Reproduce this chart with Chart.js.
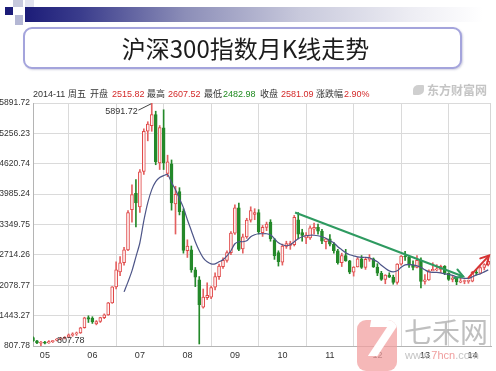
<!DOCTYPE html>
<html><head><meta charset="utf-8">
<script src="https://cdn.jsdelivr.net/npm/chart.js@4.4.1/dist/chart.umd.min.js"></script>
<style>
html,body{margin:0;padding:0;background:#fff;}
#wrap{position:relative;width:496px;height:371px;overflow:hidden;background:#fff;font-family:'Liberation Sans','Noto Sans CJK SC',sans-serif;}
#c{position:absolute;left:0;top:0;}
.sq{position:absolute;}
#bar{position:absolute;left:25px;top:7px;width:458px;height:15px;background:linear-gradient(to right,#1c1c78 0%,#3a3c8c 12%,#8c8eb8 35%,#c8c9dc 60%,#eeeef4 85%,#ffffff 100%);}
#titlebox{position:absolute;left:23px;top:27px;width:435px;height:38px;border:2px solid #a4a4dc;border-radius:9px;background:#fff;box-shadow:1px 1px 2px rgba(120,120,170,0.35);display:flex;align-items:center;justify-content:center;}
#titlebox span{font-family:'Noto Sans CJK SC',sans-serif;font-size:24px;color:#1c1c1c;line-height:1;position:relative;left:3px;}
.h{position:absolute;top:88px;font-size:9px;line-height:12px;color:#333;white-space:nowrap;font-family:'Noto Sans CJK SC','Liberation Sans',sans-serif;}
.n{font-family:'Liberation Sans',sans-serif;font-size:9px;}
.r{color:#d42a2a;}
.g{color:#1f8a1f;}
#wm1{position:absolute;left:427px;top:83px;font-family:'Noto Sans CJK SC',sans-serif;font-weight:bold;font-size:12px;color:#c4c4c4;line-height:14px;}
#wm1i{position:absolute;left:413px;top:85px;width:11px;height:10px;border-radius:50% 10% 50% 10%;background:#cfcfcf;}
#logo{position:absolute;left:357px;top:320px;width:40px;height:51px;border-radius:9px;background:rgba(242,160,160,0.75);overflow:hidden;}
#logo span{position:absolute;left:7px;top:-6px;font-family:'DejaVu Sans',sans-serif;font-weight:bold;font-style:italic;font-size:50px;color:#fff;line-height:1;}
#wm2{position:absolute;left:404px;top:315px;font-family:'Noto Sans CJK SC',sans-serif;font-size:28px;color:rgba(170,170,170,0.75);line-height:32px;letter-spacing:0px;}
#wm3{position:absolute;left:405px;top:349px;font-family:'Liberation Sans',sans-serif;font-size:11px;color:rgba(180,180,180,0.8);line-height:12px;}
#wm3 b{font-weight:normal;color:rgba(236,140,140,0.85);}
</style></head><body>
<div id="wrap">
<canvas id="c" width="496" height="371"></canvas>
<div class="sq" style="left:13px;top:0px;width:10px;height:7px;background:#c6c8dc;"></div>
<div class="sq" style="left:25px;top:0px;width:9px;height:7px;background:#e2e3ee;"></div>
<div class="sq" style="left:5px;top:7px;width:8px;height:8px;background:#1c1c78;"></div>
<div class="sq" style="left:15px;top:15px;width:8px;height:10px;background:#b4b7d4;"></div>
<div id="bar"></div>
<div id="titlebox"><span>沪深300指数月K线走势</span></div>
<div class="h n" style="left:33px;">2014-11</div>
<div class="h" style="left:68px;">周五</div>
<div class="h" style="left:90px;">开盘</div>
<div class="h n r" style="left:112px;">2515.82</div>
<div class="h" style="left:147px;">最高</div>
<div class="h n r" style="left:168px;">2607.52</div>
<div class="h" style="left:204px;">最低</div>
<div class="h n g" style="left:223px;">2482.98</div>
<div class="h" style="left:260px;">收盘</div>
<div class="h n r" style="left:281px;">2581.09</div>
<div class="h" style="left:316px;">涨跌幅</div>
<div class="h n r" style="left:344px;">2.90%</div>
<div id="wm1i"></div>
<div id="wm1">东方财富网</div>
<div id="logo"><span>7</span></div>
<div id="wm2">七禾网</div>
<div id="wm3">www.<b>7hcn</b>.com</div>
</div>
<script>
// ---- categories (monthly bars, 2005-04 .. 2014-11) ----
const months = [
 '2005-04','2005-05','2005-06','2005-07','2005-08','2005-09','2005-10','2005-11','2005-12',
 '2006-01','2006-02','2006-03','2006-04','2006-05','2006-06','2006-07','2006-08','2006-09','2006-10','2006-11','2006-12',
 '2007-01','2007-02','2007-03','2007-04','2007-05','2007-06','2007-07','2007-08','2007-09','2007-10','2007-11','2007-12',
 '2008-01','2008-02','2008-03','2008-04','2008-05','2008-06','2008-07','2008-08','2008-09','2008-10','2008-11','2008-12',
 '2009-01','2009-02','2009-03','2009-04','2009-05','2009-06','2009-07','2009-08','2009-09','2009-10','2009-11','2009-12',
 '2010-01','2010-02','2010-03','2010-04','2010-05','2010-06','2010-07','2010-08','2010-09','2010-10','2010-11','2010-12',
 '2011-01','2011-02','2011-03','2011-04','2011-05','2011-06','2011-07','2011-08','2011-09','2011-10','2011-11','2011-12',
 '2012-01','2012-02','2012-03','2012-04','2012-05','2012-06','2012-07','2012-08','2012-09','2012-10','2012-11','2012-12',
 '2013-01','2013-02','2013-03','2013-04','2013-05','2013-06','2013-07','2013-08','2013-09','2013-10','2013-11','2013-12',
 '2014-01','2014-02','2014-03','2014-04','2014-05','2014-06','2014-07','2014-08','2014-09','2014-10','2014-11'
];
// ---- tick labels ----
const yearLabels = ['05','06','07','08','09','10','11','12','13','14'];
const yearLabelMonths = ['2005-07','2006-07','2007-07','2008-07','2009-07','2010-07','2011-07','2012-07','2013-07','2014-07'];
const gridMonths = ['2006-01','2007-01','2008-01','2009-01','2010-01','2011-01','2012-01','2013-01','2014-01'];
const yTickLabels = ['807.78','1443.27','2078.77','2714.26','3349.75','3985.24','4620.74','5256.23','5891.72'];

// ---- series values ----
const open = [985,915,865,880,870,900,930,950,970,990, 1035,1060,1080,1190,1400,1390,1270,1320,1400,1460,
 1710,2045,2360,2550,2820,3660,4000,3720,4460,5300, 5420,5650,4640,5370,4420,4620,3780,4040,3630,2800,
 2820,2400,2190,1620,1820,1830,2040,2260,2470,2600, 2760,3170,3700,2840,3090,3440,3560,3600,3180,3290,
 3400,3030,2760,2560,2890,2910,2930,3450,3180,3070, 3070,3250,3290,3210,2990,3050,2940,2800,2550,2700,
 2590,2350,2460,2630,2450,2620,2630,2460,2330,2200, 2290,2250,2140,2520,2690,2670,2500,2450,2600,2160,
 2190,2380,2400,2410,2475,2330,2200,2230,2145,2158, 2160,2165,2350,2330,2450,2515.82];
const high = [1000,925,905,905,920,925,965,990,1005,1060, 1085,1100,1200,1410,1440,1420,1340,1410,1480,1720,
 2050,2570,2680,2870,3640,4180,4290,4500,5350,5500, 5891.72,5720,5420,5750,4800,4700,4150,4120,3680,3030,
 2900,2450,2260,2000,2130,2060,2340,2520,2650,2800, 3200,3760,3800,3150,3480,3720,3680,3660,3330,3400,
 3450,3060,2800,2940,3000,3000,3540,3600,3250,3180, 3320,3380,3360,3250,3060,3140,2970,2830,2750,2830,
 2600,2470,2660,2700,2650,2720,2650,2530,2370,2300, 2340,2290,2530,2700,2790,2700,2590,2700,2650,2300,
 2400,2550,2510,2500,2490,2340,2280,2240,2230,2190, 2190,2370,2410,2470,2530,2607.52];
const low = [905,855,807.78,850,860,880,915,935,955,980, 1010,1030,1070,1180,1300,1280,1250,1300,1380,1450,
 1700,2000,2280,2500,2800,3400,3300,3600,4400,5100, 5300,4600,4500,4500,4350,3650,3150,3550,2750,2660,
 2350,2050,850,1600,1780,1800,1980,2200,2430,2560, 2720,3140,2800,2750,3060,3400,3450,3150,3100,3220,
 3000,2620,2480,2500,2850,2830,2900,3050,3000,2950, 3040,3150,3150,2950,2840,2900,2750,2520,2470,2580,
 2320,2270,2460,2430,2410,2580,2450,2280,2180,2110, 2240,2100,2100,2500,2600,2450,2400,2440,2023,2100,
 2180,2380,2380,2340,2300,2180,2150,2090,2130,2110, 2120,2150,2290,2320,2400,2482.98];
const close = [915,870,880,868,900,912,955,975,990,1040, 1060,1080,1190,1395,1370,1310,1320,1400,1460,1710,
 2045,2400,2550,2820,3600,3975,3800,4450,5300,5450, 5650,4660,5380,4640,4660,3800,3980,3620,2810,2900,
 2400,2250,1670,1830,1870,2030,2260,2480,2600,2760, 3170,3700,2830,3090,3440,3640,3600,3200,3290,3360,
 3050,2700,2570,2900,2950,2960,3500,3150,3120,3130, 3280,3290,3210,3000,3050,2940,2800,2550,2700,2590,
 2350,2460,2630,2450,2620,2640,2460,2330,2200,2290, 2250,2140,2520,2690,2670,2500,2450,2600,2160,2190,
 2380,2410,2420,2475,2330,2200,2230,2150,2160,2165, 2168,2350,2330,2450,2510,2581.09];
const ma = [null,null,null,null,null,null,null,null,null,null,null,null,null,null,null,null,null,null,null,null,null,null,null,
 1940,2150,2380,2674,2968,3429,3806,4079,4247,4331,
 4373,4394,4226,4079,3890,3702,3450,3220,2989,2800,
 2653,2569,2527,2527,2569,2611,2695,2800,2947,2989,
 2989,3010,3094,3135,3156,3156,3156,3135,3052,2968,
 2926,2905,2926,2989,3052,3094,3114,3125,3125,3114,
 3094,3062,3010,2968,2884,2821,2758,2716,2695,2674,
 2664,2664,2653,2611,2569,2496,2433,2380,2359,2380,
 2454,2506,2517,2506,2485,2454,2401,2359,2349,2349,
 2338,2317,2307,2286,2255,2234,2223,2223,2255,2297,
 2317,2359,2401];
// hand-drawn trend arrows (month position, index value)
const trendDown = [{x:66.2, y:3600}, {x:108.7, y:2261}];
const trendUp = [{x:109.9, y:2227}, {x:115.2, y:2700}];

// ---- build library data ----
const RED = '#e04848', GREEN = '#24892a';
const isUp = close.map((c, i) => c >= open[i]);
const bodyData = months.map((m, i) => ({x: i, y: [open[i], close[i]]}));
const wickData = months.map((m, i) => ({x: i, y: [low[i], high[i]]}));
const maData = [];
ma.forEach((v, i) => { if (v !== null) maData.push({x: i, y: v}); });
const gridIdx = new Set(gridMonths.map(m => months.indexOf(m)));
const labelMap = new Map(yearLabelMonths.map((m, k) => [months.indexOf(m), yearLabels[k]]));
const xTicks = [...gridIdx, ...labelMap.keys()].sort((a, b) => a - b);
const FONT = "'Liberation Sans', Arial, sans-serif";

const extras = {
  id: 'extras',
  beforeDatasetsDraw(chart) {
    const {ctx, chartArea: a} = chart;
    ctx.save();
    ctx.strokeStyle = '#d6d6d6'; ctx.lineWidth = 1;
    ctx.beginPath(); ctx.moveTo(Math.round(a.right) - 0.5, a.top); ctx.lineTo(Math.round(a.right) - 0.5, a.bottom); ctx.stroke();
    ctx.restore();
  },
  afterDatasetsDraw(chart) {
    const {ctx} = chart;
    const xs = chart.scales.x, ys = chart.scales.y;
    ctx.save();
    // arrow heads
    chart.data.datasets.forEach((ds, di) => {
      if (!ds.arrowHead) return;
      const pts = chart.getDatasetMeta(di).data;
      const a = pts[pts.length - 2], b = pts[pts.length - 1];
      const ang = Math.atan2(b.y - a.y, b.x - a.x);
      const L = 8, W = 4.5;
      const c = Math.cos(ang), s = Math.sin(ang);
      ctx.strokeStyle = ds.borderColor; ctx.lineWidth = 2; ctx.lineCap = 'round';
      ctx.beginPath();
      ctx.moveTo(b.x - L * c + W * s, b.y - L * s - W * c);
      ctx.lineTo(b.x, b.y);
      ctx.lineTo(b.x - L * c - W * s, b.y - L * s + W * c);
      ctx.stroke();
    });
    // max / min annotations
    let hi = 0, lo = 0;
    high.forEach((v, i) => { if (v > high[hi]) hi = i; });
    low.forEach((v, i) => { if (v < low[lo]) lo = i; });
    ctx.font = '9px ' + FONT; ctx.fillStyle = '#333'; ctx.textBaseline = 'middle';
    const hx = xs.getPixelForValue(hi), hy = ys.getPixelForValue(high[hi]);
    ctx.strokeStyle = '#444'; ctx.lineWidth = 1;
    ctx.beginPath(); ctx.moveTo(hx - 1, hy + 1); ctx.lineTo(hx - 13, hy + 7); ctx.stroke();
    ctx.textAlign = 'right';
    ctx.fillText(high[hi].toFixed(2), hx - 14, hy + 9);
    const lx = xs.getPixelForValue(lo), ly = ys.getPixelForValue(low[lo]);
    ctx.textAlign = 'left';
    ctx.fillText(low[lo].toFixed(2), lx + 16, ly - 5);
    ctx.restore();
  }
};

new Chart(document.getElementById('c'), {
  type: 'bar',
  data: {
    datasets: [
      {type: 'line', data: trendDown, borderColor: '#2e9a60', borderWidth: 2, pointRadius: 0, order: 0, arrowHead: true},
      {type: 'line', data: trendUp, borderColor: '#d63434', borderWidth: 2, pointRadius: 0, order: 0, arrowHead: true},
      {type: 'line', data: maData, borderColor: '#4d5588', borderWidth: 1.2, pointRadius: 0, tension: 0.3, order: 1},
      {type: 'bar', data: bodyData, grouped: false, barThickness: 3, minBarLength: 1,
        backgroundColor: isUp.map(u => u ? '#fff4f4' : GREEN),
        borderColor: isUp.map(u => u ? RED : GREEN), borderWidth: 1, borderSkipped: false, order: 2},
      {type: 'bar', data: wickData, grouped: false, barThickness: 1,
        backgroundColor: isUp.map(u => u ? '#e46060' : GREEN), borderWidth: 0, order: 3}
    ]
  },
  options: {
    responsive: false, animation: false, devicePixelRatio: 1,
    layout: {padding: {top: 103, right: 5, left: 0, bottom: 0}},
    plugins: {legend: {display: false}, tooltip: {enabled: false}},
    scales: {
      x: {
        type: 'linear', min: 0, max: 115.7, offset: false,
        grid: {offset: false, drawTicks: false, lineWidth: 1,
          color: ctx => (ctx.tick && gridIdx.has(ctx.tick.value)) ? '#dadada' : 'rgba(0,0,0,0)'},
        border: {display: true, color: '#b4b4b4'},
        afterBuildTicks: s => { s.ticks = xTicks.map(v => ({value: v})); },
        afterFit: s => { s.height = 25; },
        ticks: {autoSkip: false, maxRotation: 0, padding: 4, color: '#333',
          font: {family: FONT, size: 9}, callback: v => labelMap.get(v) || ''}
      },
      y: {
        type: 'linear', min: 807.78, max: 5891.72, beginAtZero: false,
        grid: {drawTicks: false, color: '#dadada', lineWidth: 1},
        border: {display: true, color: '#b4b4b4'},
        afterBuildTicks: s => { s.ticks = yTickLabels.map(t => ({value: parseFloat(t)})); },
        afterFit: s => { s.width = 33; },
        ticks: {padding: 3, color: '#333', font: {family: FONT, size: 8.5},
          callback: (v, i) => yTickLabels[i]}
      }
    }
  },
  plugins: [extras]
});
</script>
</body></html>
